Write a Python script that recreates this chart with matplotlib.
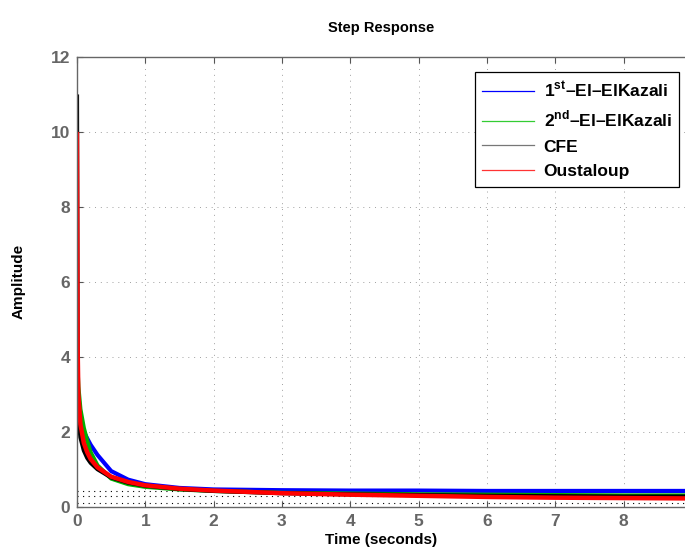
import numpy as np
import matplotlib
matplotlib.use("Agg")
import matplotlib.pyplot as plt
from matplotlib.lines import Line2D

plt.rcParams['font.family'] = ['Liberation Sans', 'DejaVu Sans']
plt.rcParams['font.weight'] = 'bold'
plt.rcParams['mathtext.fontset'] = 'custom'
plt.rcParams['mathtext.bf'] = 'Liberation Sans:bold'
plt.rcParams['mathtext.rm'] = 'Liberation Sans:bold'

# time samples (seconds)
t = [0, 0.01, 0.02, 0.05, 0.1, 0.15, 0.2, 0.3, 0.5, 0.75, 1.0, 1.5, 2.0, 3.0, 4.0, 5.0, 6.0, 7.0, 8.0, 9.0]

# step responses
first_elk = [2.4, 2.35, 2.3, 2.2, 2.0, 1.82, 1.65, 1.38, 0.95, 0.72, 0.6, 0.5, 0.46, 0.44, 0.43, 0.43, 0.42, 0.42, 0.42, 0.42]
second_elk = [4.0, 3.6, 3.2, 2.6, 2.1, 1.75, 1.45, 1.1, 0.75, 0.6, 0.53, 0.46, 0.42, 0.37, 0.35, 0.33, 0.32, 0.31, 0.30, 0.30]
cfe = [11.0, 3.2, 2.4, 1.85, 1.5, 1.3, 1.17, 1.0, 0.78, 0.64, 0.56, 0.47, 0.42, 0.36, 0.33, 0.31, 0.29, 0.28, 0.27, 0.27]
oustaloup = [10.0, 4.2, 3.0, 2.2, 1.7, 1.45, 1.27, 1.05, 0.8, 0.66, 0.57, 0.48, 0.43, 0.36, 0.32, 0.29, 0.26, 0.24, 0.23, 0.22]

final_vals = [0.43, 0.28, 0.11]

names = [r'1$^{\mathbf{st}}$–El–ElKazali', r'2$^{\mathbf{nd}}$–El–ElKazali', 'CFE', 'Oustaloup']

fig = plt.figure(figsize=(6.85, 5.52), dpi=100)
ax = fig.add_axes([0.1124, 0.0821, 0.8876, 0.8147])

ax.plot(t, first_elk, color='#0000ff', lw=3.0, solid_capstyle='butt')
ax.plot(t, second_elk, color='#00b000', lw=3.0, solid_capstyle='butt')
ax.plot(t, cfe, color='black', lw=3.0, solid_capstyle='butt')
ax.plot(t, oustaloup, color='#ff0000', lw=3.2, solid_capstyle='butt')

for v in final_vals:
    ax.axhline(v, color='black', ls=(0, (1, 4)), lw=0.8, zorder=0.5)

ax.set_xlim(0, 8.9)
ax.set_ylim(0, 12)
ax.set_xticks(range(0, 9))
ax.set_yticks(range(0, 13, 2))
ax.grid(True, color='#a0a0a0', ls=(0, (1, 5)), lw=0.7)
ax.tick_params(direction='in', length=4, colors='#555555', labelsize=12.5, top=True, right=False, width=0.8, pad=5)
for lab in ax.get_xticklabels() + ax.get_yticklabels():
    lab.set_fontweight('bold')
    lab.set_color('#666666')
for s in ['left', 'bottom', 'top']:
    ax.spines[s].set_color('#666666')
    ax.spines[s].set_linewidth(1.0)
ax.spines['right'].set_visible(False)

ax.set_title('Step Response', fontsize=10.5, fontweight='bold', pad=18)
ax.set_xlabel('Time (seconds)', fontsize=11, fontweight='bold', labelpad=3)
ax.set_ylabel('Amplitude', fontsize=11, fontweight='bold', labelpad=18)

handles = [Line2D([], [], color='#0000ff', lw=0.9),
           Line2D([], [], color='#33cc33', lw=0.9),
           Line2D([], [], color='#777777', lw=0.9),
           Line2D([], [], color='#ff3333', lw=0.9)]
leg = ax.legend(handles, names, loc='upper right', bbox_to_anchor=(0.9965, 0.974),
                prop={'weight': 'bold', 'size': 12.5}, fancybox=False, framealpha=1,
                edgecolor='black', handlelength=3.0, borderpad=0.42, labelspacing=0.55,
                handletextpad=0.55, borderaxespad=0.2)
leg.get_frame().set_linewidth(0.9)

fig.savefig('out.png', dpi=100)
